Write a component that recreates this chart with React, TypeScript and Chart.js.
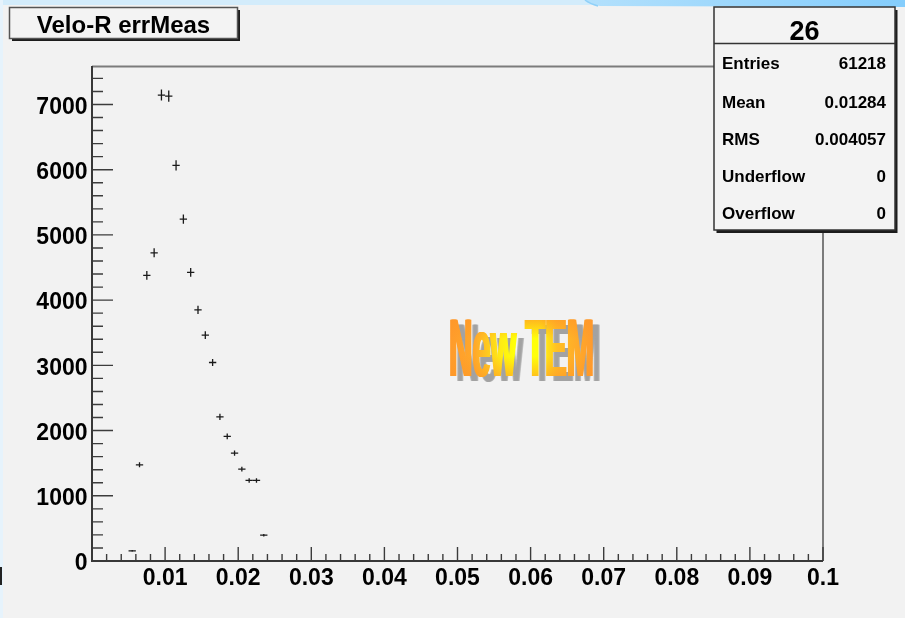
import React, { useEffect, useRef } from 'react';
import { Chart, registerables } from 'chart.js';

Chart.register(...registerables);

// ---- data ----
const BIN_CENTERS = [
  0.0055, 0.0065, 0.0075, 0.0085, 0.0095, 0.0105, 0.0115, 0.0125, 0.0135, 0.0145,
  0.0155, 0.0165, 0.0175, 0.0185, 0.0195, 0.0205, 0.0215, 0.0225, 0.0235,
];
const COUNTS = [
  155, 1474, 4379, 4725, 7144, 7128, 6066, 5242, 4425, 3851,
  3463, 3044, 2210, 1910, 1653, 1408, 1235, 1235, 396,
];
const BIN_WIDTH = 0.001;

const X_MIN = 0;
const X_MAX = 0.1;
const Y_MIN = 0;
const Y_MAX = 7590;

const X_TICKS = [0.01, 0.02, 0.03, 0.04, 0.05, 0.06, 0.07, 0.08, 0.09, 0.1];
const X_TICK_LABELS = ['0.01', '0.02', '0.03', '0.04', '0.05', '0.06', '0.07', '0.08', '0.09', '0.1'];
const X_MINOR_STEP = 0.002;
const Y_TICKS = [0, 1000, 2000, 3000, 4000, 5000, 6000, 7000];
const Y_TICK_LABELS = ['0', '1000', '2000', '3000', '4000', '5000', '6000', '7000'];
const Y_MINOR_STEP = 200;

const HIST_TITLE = 'Velo-R errMeas';
const STATS_TITLE = '26';
const STATS_LABELS = ['Entries', 'Mean', 'RMS', 'Underflow', 'Overflow'];
const STATS_VALUES = ['61218', '0.01284', '0.004057', '0', '0'];
const WATERMARK = 'New TEM';

const FONT = "'Liberation Sans', Arial, Helvetica, sans-serif";

function drawWatermark(ctx: CanvasRenderingContext2D) {
  const off = document.createElement('canvas');
  off.width = 200;
  off.height = 100;
  const o = off.getContext('2d') as CanvasRenderingContext2D;
  o.font = `bold 81px ${FONT}`;
  const w = o.measureText(WATERMARK).width;
  const sx = 145 / w;
  o.save();
  o.translate(10, 80);
  o.scale(sx, 1);
  for (let d = 0; d <= 2; d += 0.5) o.fillText(WATERMARK, d / sx, 0);
  o.restore();
  o.globalCompositeOperation = 'source-in';
  const gh = o.createLinearGradient(10, 0, 157, 0);
  gh.addColorStop(0, '#ff9a2c');
  gh.addColorStop(0.18, '#ffa82a');
  gh.addColorStop(0.36, '#ffec14');
  gh.addColorStop(0.45, '#ffff08');
  gh.addColorStop(0.62, '#ffff0a');
  gh.addColorStop(0.74, '#ffc024');
  gh.addColorStop(1, '#ff982e');
  o.fillStyle = gh;
  o.fillRect(0, 0, 200, 100);
  o.globalCompositeOperation = 'source-atop';
  const gv = o.createLinearGradient(0, 22, 0, 81);
  gv.addColorStop(0, 'rgba(255,150,40,0.75)');
  gv.addColorStop(0.35, 'rgba(255,150,40,0)');
  gv.addColorStop(0.65, 'rgba(255,150,40,0)');
  gv.addColorStop(1, 'rgba(255,150,40,0.6)');
  o.fillStyle = gv;
  o.fillRect(0, 0, 200, 100);

  // shadow on main canvas
  ctx.save();
  ctx.font = `bold 81px ${FONT}`;
  ctx.translate(448, 376);
  ctx.scale(sx, 1);
  ctx.fillStyle = 'rgba(160,160,160,0.5)';
  for (let d = 0; d <= 2; d += 0.5) ctx.fillText(WATERMARK, (7 + d) / sx, 5);
  ctx.restore();
  ctx.drawImage(off, 438, 296);
}

const rootPlugin = {
  id: 'rootStyle',
  beforeDraw(chart: any) {
    const { ctx, width, height } = chart;
    ctx.save();
    ctx.fillStyle = '#f2f2f2';
    ctx.fillRect(0, 0, width, height);
    // top blue strip
    ctx.fillStyle = '#d3ecfb';
    ctx.fillRect(0, 0, width, 5);
    const g = ctx.createLinearGradient(590, 0, width, 0);
    g.addColorStop(0, '#b2e0fc');
    g.addColorStop(1, '#84cdfc');
    ctx.fillStyle = g;
    ctx.beginPath();
    ctx.moveTo(586, 0);
    ctx.lineTo(width, 0);
    ctx.lineTo(width, 7);
    ctx.lineTo(600, 6);
    ctx.quadraticCurveTo(592, 5, 586, 0);
    ctx.fill();
    ctx.strokeStyle = '#8fd0f8';
    ctx.lineWidth = 1.5;
    ctx.beginPath();
    ctx.moveTo(585, 0);
    ctx.quadraticCurveTo(590, 4, 598, 6);
    ctx.stroke();
    // left light strip
    ctx.fillStyle = '#e6f3fc';
    ctx.fillRect(0, 0, 3, height);
    ctx.fillStyle = '#222';
    ctx.fillRect(0, 567, 2, 18);
    ctx.restore();
  },
  beforeDatasetsDraw(chart: any) {
    drawWatermark(chart.ctx);
  },
  afterDatasetsDraw(chart: any) {
    const { ctx } = chart;
    const xs = chart.scales.x;
    const ys = chart.scales.y;
    const data = chart.data.datasets[0].data as { x: number; y: number }[];
    ctx.save();
    ctx.strokeStyle = '#1a1a1a';
    ctx.lineWidth = 1.3;
    data.forEach((p) => {
      const e = Math.sqrt(p.y);
      const x0 = xs.getPixelForValue(p.x - BIN_WIDTH / 2);
      const x1 = xs.getPixelForValue(p.x + BIN_WIDTH / 2);
      const xc = xs.getPixelForValue(p.x);
      const y = ys.getPixelForValue(p.y);
      const ya = ys.getPixelForValue(p.y - e);
      const yb = ys.getPixelForValue(p.y + e);
      ctx.beginPath();
      ctx.moveTo(x0, y);
      ctx.lineTo(x1, y);
      ctx.moveTo(xc, ya);
      ctx.lineTo(xc, yb);
      ctx.stroke();
    });
    ctx.restore();
  },
  afterDraw(chart: any) {
    const { ctx, chartArea } = chart;
    const { left, right, top, bottom } = chartArea;
    const xs = chart.scales.x;
    const ys = chart.scales.y;
    ctx.save();
    // frame top/right
    ctx.strokeStyle = '#7c7c7c';
    ctx.lineWidth = 2;
    ctx.beginPath();
    ctx.moveTo(left, top + 0.5);
    ctx.lineTo(right, top + 0.5);
    ctx.lineTo(right, bottom);
    ctx.stroke();
    // ticks
    ctx.strokeStyle = '#3c3c3c';
    ctx.lineWidth = 1.4;
    ctx.beginPath();
    const nx = Math.round((X_MAX - X_MIN) / X_MINOR_STEP);
    for (let k = 1; k <= nx; k++) {
      const px = xs.getPixelForValue(X_MIN + k * X_MINOR_STEP);
      const len = k % 5 === 0 ? 14 : 7;
      ctx.moveTo(px, bottom);
      ctx.lineTo(px, bottom - len);
    }
    const ny = Math.floor((Y_MAX - Y_MIN) / Y_MINOR_STEP);
    for (let k = 1; k <= ny; k++) {
      const py = ys.getPixelForValue(Y_MIN + k * Y_MINOR_STEP);
      const len = k % 5 === 0 ? 21 : 11;
      ctx.moveTo(left, py);
      ctx.lineTo(left + len, py);
    }
    ctx.stroke();
    // axes
    ctx.strokeStyle = '#383838';
    ctx.lineWidth = 2;
    ctx.beginPath();
    ctx.moveTo(left, top);
    ctx.lineTo(left, bottom);
    ctx.lineTo(right, bottom);
    ctx.stroke();

    // title box
    ctx.fillStyle = '#1c1c1c';
    ctx.fillRect(12, 10, 228, 31);
    ctx.fillStyle = '#f3f3f3';
    ctx.fillRect(9.5, 7.5, 228, 31);
    ctx.strokeStyle = '#555';
    ctx.lineWidth = 1.5;
    ctx.strokeRect(9.5, 7.5, 228, 31);
    ctx.fillStyle = '#000';
    ctx.font = `bold 24px ${FONT}`;
    ctx.textAlign = 'center';
    ctx.textBaseline = 'alphabetic';
    ctx.fillText(HIST_TITLE, 123.5, 33);

    // stats box
    const bx = 714, by = 7, bw = 181, bh = 223;
    ctx.fillStyle = '#1c1c1c';
    ctx.fillRect(bx + 2.5, by + 3, bw, bh);
    ctx.fillStyle = '#f3f3f3';
    ctx.fillRect(bx, by, bw, bh);
    ctx.strokeStyle = '#333';
    ctx.lineWidth = 1.5;
    ctx.strokeRect(bx, by, bw, bh);
    ctx.beginPath();
    ctx.moveTo(bx, 43.5);
    ctx.lineTo(bx + bw, 43.5);
    ctx.stroke();
    ctx.fillStyle = '#000';
    ctx.font = `bold 27px ${FONT}`;
    ctx.textAlign = 'center';
    ctx.fillText(STATS_TITLE, 804.5, 39.5);
    const baselines = [69, 107.5, 145, 182, 218.5];
    ctx.font = `bold 17px ${FONT}`;
    STATS_LABELS.forEach((lab, i) => {
      ctx.textAlign = 'left';
      ctx.fillText(lab, 722, baselines[i]);
      ctx.textAlign = 'right';
      ctx.fillText(STATS_VALUES[i], 886, baselines[i]);
    });
    ctx.restore();
  },
};

export default function App() {
  const ref = useRef<HTMLCanvasElement>(null);
  useEffect(() => {
    if (!ref.current) return;
    const chart = new Chart(ref.current, {
      type: 'scatter',
      data: {
        datasets: [
          {
            label: HIST_TITLE,
            data: BIN_CENTERS.map((x, i) => ({ x, y: COUNTS[i] })),
            pointRadius: 0,
            pointHoverRadius: 0,
            showLine: false,
          },
        ],
      },
      options: {
        responsive: false,
        animation: false,
        devicePixelRatio: 1,
        events: [],
        layout: { padding: { left: 0, top: 66, right: 82, bottom: 0 } },
        plugins: { legend: { display: false }, tooltip: { enabled: false } },
        scales: {
          x: {
            type: 'linear',
            position: 'bottom',
            min: X_MIN,
            max: X_MAX,
            afterFit: (s: any) => { s.height = 57; },
            afterBuildTicks: (s: any) => { s.ticks = X_TICKS.map((v) => ({ value: v })); },
            grid: { display: false, drawTicks: false },
            border: { display: false },
            ticks: {
              autoSkip: false,
              maxRotation: 0,
              minRotation: 0,
              padding: 4,
              color: '#000',
              font: { family: FONT, size: 23, weight: 'bold', lineHeight: 1.2 },
              callback: (_v: any, i: number) => X_TICK_LABELS[i],
            },
          },
          y: {
            type: 'linear',
            position: 'left',
            min: Y_MIN,
            max: Y_MAX,
            afterFit: (s: any) => { s.width = 92; },
            afterBuildTicks: (s: any) => { s.ticks = Y_TICKS.map((v) => ({ value: v })); },
            grid: { display: false, drawTicks: false },
            border: { display: false },
            ticks: {
              autoSkip: false,
              padding: 4.5,
              labelOffset: 3,
              color: '#000',
              font: { family: FONT, size: 23, weight: 'bold', lineHeight: 1.2 },
              callback: (_v: any, i: number) => Y_TICK_LABELS[i],
            },
          },
        },
      } as any,
      plugins: [rootPlugin],
    });
    return () => chart.destroy();
  }, []);
  return (
    <div style={{ position: 'absolute', left: 0, top: 0, width: 905, height: 618 }}>
      <canvas ref={ref} width={905} height={618} style={{ display: 'block', width: 905, height: 618 }} />
    </div>
  );
}
